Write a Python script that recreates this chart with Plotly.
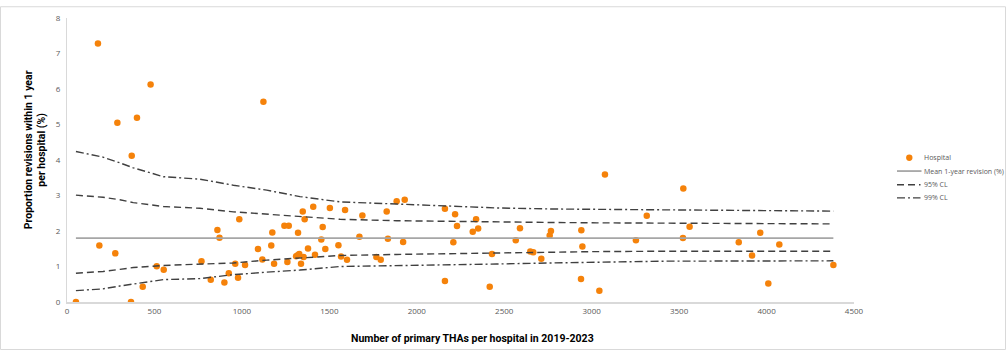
import plotly.graph_objects as go

# Hospital data: number of primary THAs (2019-2023) and 1-year revision proportion (%)
hosp_n = [51, 177, 185, 276, 288, 366, 370, 400, 433, 478, 513, 553, 769, 822, 860, 872,
          900, 925, 962, 978, 985, 1018, 1092, 1117, 1123, 1168, 1174, 1184, 1243, 1260,
          1268, 1310, 1319, 1321, 1328, 1338, 1348, 1353, 1359, 1378, 1408, 1418, 1454,
          1462, 1477, 1503, 1552, 1567, 1590, 1601, 1672, 1689, 1769, 1794, 1828, 1835,
          1885, 1931, 1922, 2161, 2161, 2209, 2219, 2230, 2320, 2339, 2351, 2417, 2430,
          2566, 2590, 2649, 2666, 2712, 2760, 2767, 2939, 2941, 2947, 3044, 3076, 3253,
          3315, 3522, 3524, 3560, 3841, 3917, 3964, 4010, 4073, 4382]
hosp_rev = [0.00, 7.28, 1.59, 1.37, 5.05, 0.00, 4.12, 5.19, 0.43, 6.13, 1.01, 0.91, 1.15, 0.63,
            2.03, 1.81, 0.55, 0.81, 1.08, 0.68, 2.33, 1.04, 1.49, 1.20, 5.64, 1.59, 1.96, 1.08,
            2.15, 1.13, 2.15, 1.29, 1.32, 1.95, 1.35, 1.08, 2.55, 1.27, 2.33, 1.51, 2.68, 1.33,
            1.76, 2.11, 1.49, 2.65, 1.60, 1.28, 2.59, 1.19, 1.84, 2.44, 1.27, 1.19, 2.55, 1.78,
            2.84, 2.88, 1.69, 2.63, 0.59, 1.68, 2.47, 2.14, 1.98, 2.33, 2.07, 0.43, 1.35, 1.74,
            2.08, 1.42, 1.40, 1.22, 1.87, 2.00, 0.65, 2.02, 1.56, 0.32, 3.59, 1.74, 2.43, 1.80,
            3.20, 2.12, 1.68, 1.31, 1.95, 0.52, 1.62, 1.04]

# Mean line
mean_x = [51, 4382]
mean_y = [1.8, 1.8]

# Control limits
cl_x = [51, 206, 302, 379, 551, 760, 951, 1142, 1332, 1561, 1885, 2161, 2457, 2771, 3029, 3408, 4382]
cl95_up = [3.01, 2.95, 2.88, 2.80, 2.69, 2.64, 2.54, 2.48, 2.42, 2.33, 2.29, 2.27, 2.25, 2.24, 2.23, 2.22, 2.20]
cl95_lo = [0.81, 0.86, 0.92, 0.97, 1.03, 1.07, 1.10, 1.18, 1.24, 1.31, 1.34, 1.36, 1.38, 1.41, 1.42, 1.43, 1.43]
cl99_up = [4.24, 4.08, 3.92, 3.78, 3.53, 3.46, 3.29, 3.15, 2.97, 2.82, 2.76, 2.70, 2.65, 2.62, 2.61, 2.58, 2.56]
cl99_lo = [0.32, 0.37, 0.45, 0.51, 0.63, 0.66, 0.77, 0.84, 0.90, 1.00, 1.02, 1.04, 1.07, 1.10, 1.12, 1.15, 1.16]

x_ticks = [0, 500, 1000, 1500, 2000, 2500, 3000, 3500, 4000, 4500]
y_ticks = [0, 1, 2, 3, 4, 5, 6, 7, 8]

legend_labels = ["Hospital", "Mean 1-year revision (%)", "95% CL", "99% CL"]

ORANGE = "#F5820A"
DARK = "#404040"
MEANC = "#A6A6A6"
DASH95 = "7px,4px"
DASH99 = "8px,3px,2px,3px"
FONT = "Open Sans"
TFONT = "Roboto, sans-serif"

fig = go.Figure()
fig.add_trace(go.Scatter(x=hosp_n, y=hosp_rev, mode="markers", name=legend_labels[0],
                         marker=dict(color=ORANGE, size=6.5, line=dict(width=0))))
fig.add_trace(go.Scatter(x=mean_x, y=mean_y, mode="lines", name=legend_labels[1],
                         line=dict(color=MEANC, width=1.8)))
fig.add_trace(go.Scatter(x=cl_x, y=cl95_up, mode="lines", name=legend_labels[2],
                         line=dict(color=DARK, width=1.4, dash=DASH95)))
fig.add_trace(go.Scatter(x=cl_x, y=cl95_lo, mode="lines", name=legend_labels[2],
                         line=dict(color=DARK, width=1.4, dash=DASH95)))
fig.add_trace(go.Scatter(x=cl_x, y=cl99_up, mode="lines", name=legend_labels[3],
                         line=dict(color=DARK, width=1.4, dash=DASH99)))
fig.add_trace(go.Scatter(x=cl_x, y=cl99_lo, mode="lines", name=legend_labels[3],
                         line=dict(color=DARK, width=1.4, dash=DASH99)))

L, R, T, B = 67, 854, 12, 302
PW = float(R - L)
PH = float(B - T)


def px(xp):
    return (xp - L) / PW


def py(yp):
    return (B - yp) / PH


# Manual legend (compact, Excel-like spacing)
leg_rows = [154.7, 168.3, 182.3, 195.7]
shapes = [
    dict(type="rect", xref="paper", yref="paper",
         x0=px(0.5), x1=px(1005.5), y0=py(350.5), y1=py(0.5),
         line=dict(color="#D9D9D9", width=1), fillcolor="rgba(0,0,0,0)", layer="below"),
    dict(type="circle", xref="paper", yref="paper",
         x0=px(909.3 - 3.2), x1=px(909.3 + 3.2), y0=py(leg_rows[0] + 3.2), y1=py(leg_rows[0] - 3.2),
         fillcolor=ORANGE, line=dict(width=0)),
    dict(type="line", xref="paper", yref="paper", x0=px(897), x1=px(921.5),
         y0=py(leg_rows[1]), y1=py(leg_rows[1]), line=dict(color=MEANC, width=1.8)),
    dict(type="line", xref="paper", yref="paper", x0=px(897), x1=px(920.5),
         y0=py(leg_rows[2]), y1=py(leg_rows[2]), line=dict(color=DARK, width=1.4, dash=DASH95)),
    dict(type="line", xref="paper", yref="paper", x0=px(897), x1=px(920.5),
         y0=py(leg_rows[3]), y1=py(leg_rows[3]), line=dict(color=DARK, width=1.4, dash=DASH99)),
]

annotations = [
    dict(text="<b>Proportion revisions within 1 year<br>per hospital (%)</b>",
         xref="paper", yref="paper", x=px(35), y=py(147),
         textangle=-90, showarrow=False, xanchor="center", yanchor="middle",
         font=dict(size=10.5, color="#000000", family=TFONT)),
    dict(text="<b>Number of primary THAs per hospital in 2019-2023</b>",
         xref="paper", yref="paper", x=px(472), y=py(339),
         showarrow=False, xanchor="center", yanchor="middle",
         font=dict(size=10.5, color="#000000", family=TFONT)),
]
for lab, yy in zip(legend_labels, leg_rows):
    annotations.append(dict(text=lab, xref="paper", yref="paper", x=px(922), y=py(yy),
                            xanchor="left", yanchor="middle", showarrow=False,
                            font=dict(size=7, color="#595959", family=FONT)))

fig.update_layout(
    width=1006, height=351,
    margin=dict(l=L, r=1006 - R, t=T, b=351 - B),
    paper_bgcolor="white", plot_bgcolor="white",
    font=dict(family=FONT, color="#595959", size=9),
    showlegend=False,
    xaxis=dict(range=[0, 4500], tickvals=x_ticks, showgrid=False, zeroline=False,
               showline=True, linecolor="#D9D9D9", linewidth=2,
               tickfont=dict(size=8, color="#595959", family=FONT), ticks=""),
    yaxis=dict(range=[0, 8], tickvals=y_ticks, showgrid=False, zeroline=False,
               showline=True, linecolor="#D9D9D9", linewidth=1,
               tickfont=dict(size=8, color="#595959", family=FONT), ticks="outside",
               ticklen=4, tickcolor="rgba(0,0,0,0)"),
    annotations=annotations,
    shapes=shapes,
)

fig.write_html("out.html")
